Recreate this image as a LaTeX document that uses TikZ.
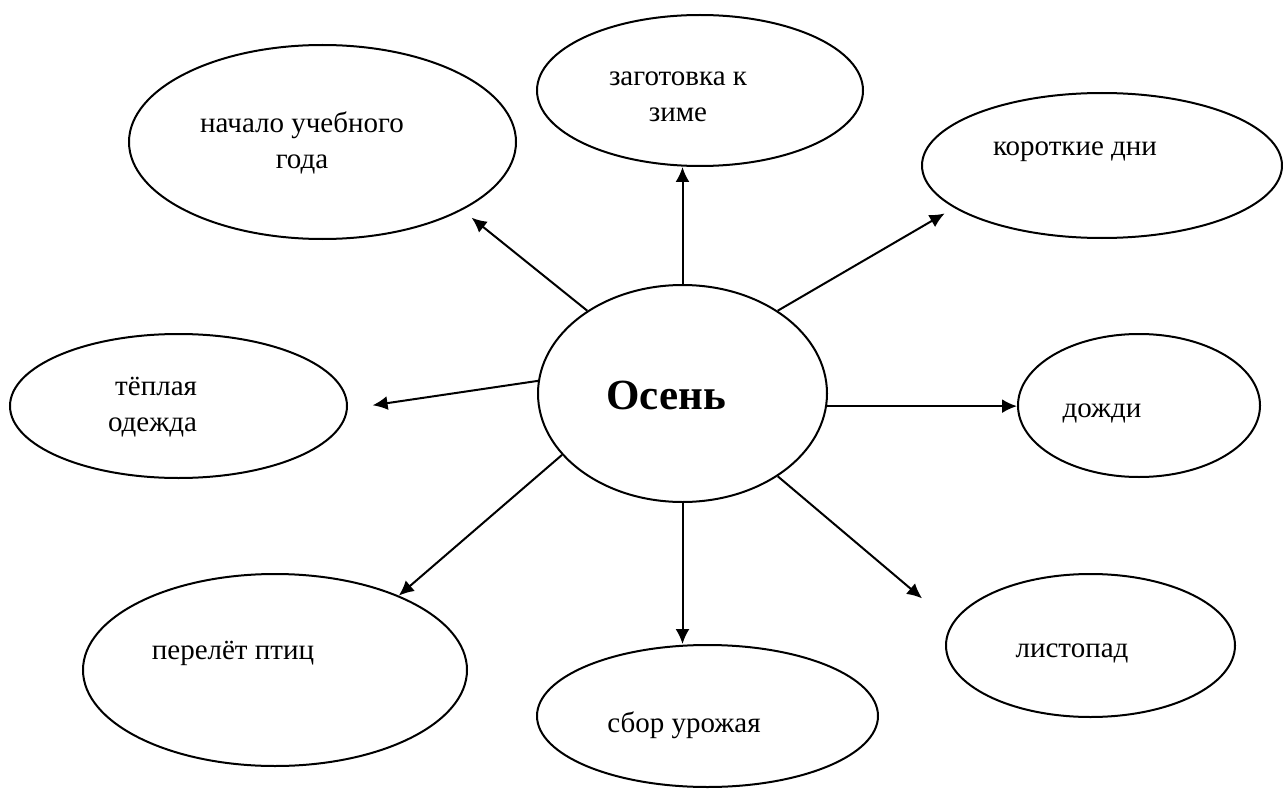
\documentclass[tikz,border=0pt]{standalone}
\usepackage{fontspec}
\setmainfont{Liberation Serif}
\usetikzlibrary{shapes.geometric,arrows.meta,positioning,calc}
\newcommand{\wordfont}{\fontsize{29}{36}\selectfont}
\newcommand{\headfont}{\fontsize{43}{50}\selectfont\bfseries}
\tikzset{
    topic/.style={ellipse, draw, line width=2pt, inner sep=0pt},
    topictext/.style={font=\wordfont, align=center, inner sep=0pt},
    line/.style={draw, line width=2pt, -{Latex[length=15pt,width=14pt]}}
}

\begin{document}
\begin{tikzpicture}[x=1pt, y=-1pt]
    \useasboundingbox (0,0) rectangle (1283,789);

    % Centre
    \node [topic, minimum width=289pt, minimum height=217pt] (osen) at (682.5,393.5) {};
    \node [topictext, font=\headfont] (osen-t) at ([shift={(-16.5,1.5)}]osen) {Осень};

    % Upper row
    \node [topic, minimum width=387pt, minimum height=194pt] (nachalo) at (322.5,142) {};
    \node [topictext] (nachalo-t) at ([shift={(-20.5,1)}]nachalo) {начало учебного\\года};
    \node [topic, minimum width=326pt, minimum height=151pt] (zagotovka) at (700,90.5) {};
    \node [topictext] (zagotovka-t) at ([shift={(-22,6.5)}]zagotovka) {заготовка к\\зиме};
    \node [topic, minimum width=360pt, minimum height=145pt] (korotkie) at (1102,165.5) {};
    \node [topictext] (korotkie-t) at ([shift={(-27,-13.5)}]korotkie) {короткие дни};

    % Middle row
    \node [topic, minimum width=337pt, minimum height=144pt] (teplaya) at (178.5,406) {};
    \node [topictext, align=right] (teplaya-t) at ([shift={(-26,1.5)}]teplaya) {тёплая\\одежда};
    \node [topic, minimum width=242pt, minimum height=143pt] (dozhdi) at (1139,405.5) {};
    \node [topictext] (dozhdi-t) at ([shift={(-37,7.5)}]dozhdi) {дожди};

    % Lower row
    \node [topic, minimum width=384pt, minimum height=192pt] (perelet) at (275,670) {};
    \node [topictext] (perelet-t) at ([shift={(-42,-17)}]perelet) {перелёт птиц};
    \node [topic, minimum width=341pt, minimum height=142pt] (sbor) at (707.5,716) {};
    \node [topictext] (sbor-t) at ([shift={(-23.5,9)}]sbor) {сбор урожая};
    \node [topic, minimum width=289pt, minimum height=143pt] (listopad) at (1090.5,645.5) {};
    \node [topictext] (listopad-t) at ([shift={(-18.5,7.5)}]listopad) {листопад};

    % Connections
    \path [line, shorten >=12pt] (osen.139) -- (nachalo.-26);
    \path [line] (osen.north) -- (osen.north |- zagotovka.south);
    \path [line, shorten >=11pt] (osen.41) -- (korotkie.196);
    \path [line, shorten >=25pt] (osen.175) -- (teplaya.-1);
    \path [line] (osen.-5) -- (osen.-5 -| dozhdi.west);
    \path [line] (osen.207) -- (perelet.31);
    \path [line] (osen.south) -- (osen.south |- sbor.north);
    \path [line, shorten >=39pt] (osen.-41) -- (listopad.171);
\end{tikzpicture}
\end{document}
